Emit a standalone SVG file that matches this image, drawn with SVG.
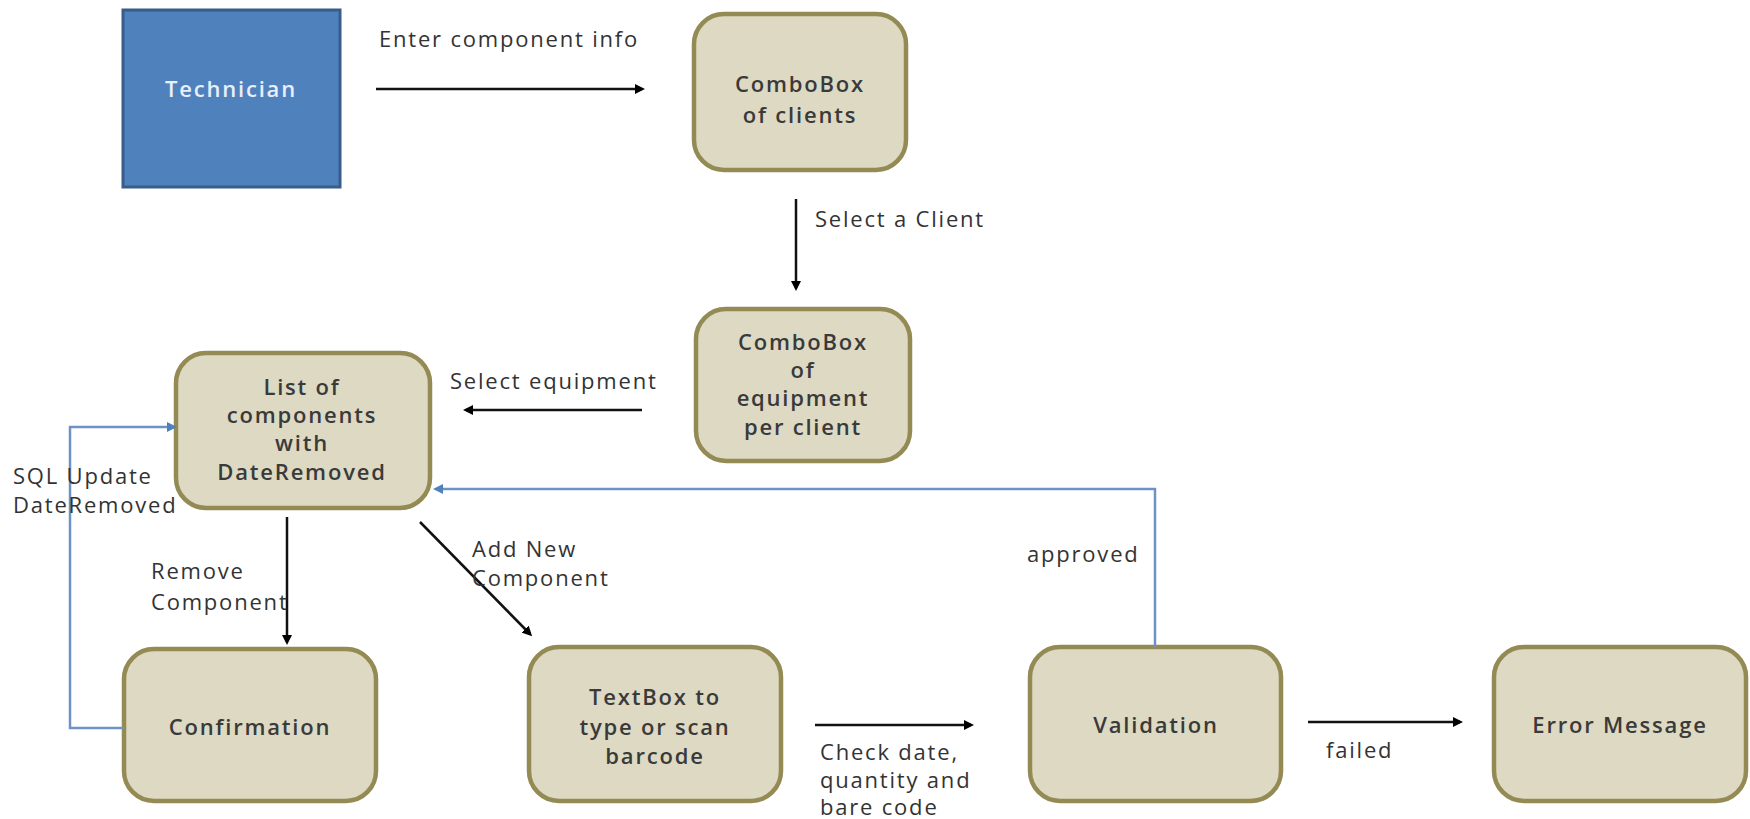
<svg xmlns="http://www.w3.org/2000/svg" width="1750" height="819" viewBox="0 0 1750 819">
<defs>
<marker id="ab" markerWidth="10" markerHeight="10" refX="7" refY="5" orient="auto" markerUnits="userSpaceOnUse">
<path d="M0,0 L10,5 L0,10 z" fill="#000"/>
</marker>
<marker id="au" markerWidth="10" markerHeight="10" refX="7" refY="5" orient="auto" markerUnits="userSpaceOnUse">
<path d="M0,0 L10,5 L0,10 z" fill="#4f81bd"/>
</marker>
<style>
.node{fill:#ddd9c3;stroke:#948a54;stroke-width:4.5}
.tech{fill:#4f81bd;stroke:#385d8a;stroke-width:3}
.nt{font-family:"Open Sans","Liberation Sans",sans-serif;font-size:22px;font-weight:600;letter-spacing:1.8px;fill:#3a3a3a;text-anchor:middle}
.lb{font-family:"Open Sans","Liberation Sans",sans-serif;font-size:22px;letter-spacing:1.8px;fill:#333}
.ed{stroke:#111;stroke-width:2.5;fill:none;marker-end:url(#ab)}
.bl{stroke:#6f92c6;stroke-width:2.5;fill:none;marker-end:url(#au)}
</style>
</defs>
<rect width="1750" height="819" fill="#fff"/>
<g id="technician"><rect class="tech" x="123" y="10" width="217" height="177"/><text class="nt" x="231" y="97" style="fill:#e8eefa">Technician</text></g>
<g id="combo-clients"><rect class="node" x="694" y="14" width="212" height="156" rx="30"/><text class="nt" x="800" y="92">ComboBox</text><text class="nt" x="800" y="123">of clients</text></g>
<g id="combo-equipment"><rect class="node" x="696" y="309" width="214" height="152" rx="30"/><text class="nt" x="803" y="350">ComboBox</text><text class="nt" x="803" y="378">of</text><text class="nt" x="803" y="406">equipment</text><text class="nt" x="803" y="435">per client</text></g>
<g id="list-components"><rect class="node" x="176" y="353" width="254" height="155" rx="30"/><text class="nt" x="302" y="395">List of</text><text class="nt" x="302" y="423">components</text><text class="nt" x="302" y="451">with</text><text class="nt" x="302" y="480">DateRemoved</text></g>
<g id="confirmation"><rect class="node" x="124" y="649" width="252" height="152" rx="30"/><text class="nt" x="250" y="735">Confirmation</text></g>
<g id="textbox"><rect class="node" x="529" y="647" width="252" height="154" rx="30"/><text class="nt" x="655" y="705">TextBox to</text><text class="nt" x="655" y="735">type or scan</text><text class="nt" x="655" y="764">barcode</text></g>
<g id="validation"><rect class="node" x="1030" y="647" width="251" height="154" rx="30"/><text class="nt" x="1156" y="733">Validation</text></g>
<g id="error-message"><rect class="node" x="1494" y="647" width="252" height="154" rx="30"/><text class="nt" x="1620" y="733">Error Message</text></g>
<g id="connectors">
<line class="ed" x1="376" y1="89" x2="642" y2="89"/>
<line class="ed" x1="796" y1="199" x2="796" y2="288"/>
<line class="ed" x1="642" y1="410" x2="466" y2="410"/>
<line class="ed" x1="287" y1="517" x2="287" y2="642"/>
<line class="ed" x1="420" y1="522" x2="530" y2="634"/>
<line class="ed" x1="815" y1="725" x2="971" y2="725"/>
<line class="ed" x1="1308" y1="722" x2="1460" y2="722"/>
<polyline class="bl" points="124,728 70,728 70,427 174,427"/>
<polyline class="bl" points="1155,647 1155,489 436,489"/>
</g>
<g id="labels">
<text class="lb" x="379" y="47">Enter component info</text>
<text class="lb" x="815" y="227">Select a Client</text>
<text class="lb" x="450" y="389">Select equipment</text>
<text class="lb" x="13" y="484">SQL Update</text>
<text class="lb" x="13" y="513">DateRemoved</text>
<text class="lb" x="151" y="579">Remove</text>
<text class="lb" x="151" y="610">Component</text>
<text class="lb" x="472" y="557">Add New</text>
<text class="lb" x="472" y="586">Component</text>
<text class="lb" x="1027" y="562">approved</text>
<text class="lb" x="820" y="760">Check date,</text>
<text class="lb" x="820" y="788">quantity and</text>
<text class="lb" x="820" y="815">bare code</text>
<text class="lb" x="1326" y="758">failed</text>
</g>
</svg>
